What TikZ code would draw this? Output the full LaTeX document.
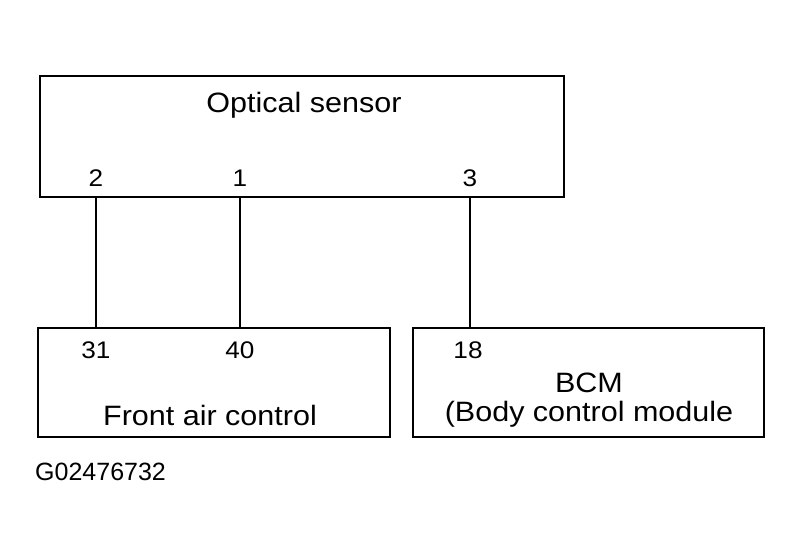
\documentclass[tikz,border=0pt]{standalone}
\usepackage{fontspec}
\setmainfont{Liberation Sans}
\newfontfamily\widesans[FakeStretch=1.09]{Liberation Sans}
\begin{document}
\begin{tikzpicture}[x=1pt,y=-1pt,
  box/.style={draw=black,line width=2pt,rectangle,inner sep=0pt},
  wire/.style={draw=black,line width=2pt},
  namelbl/.style={inner sep=0pt,anchor=base,font=\widesans\fontsize{28}{30}\selectfont},
  pinlbl/.style={inner sep=0pt,anchor=base,font=\widesans\fontsize{24}{26}\selectfont},
  idlbl/.style={inner sep=0pt,anchor=base west,font=\fontsize{25}{27}\selectfont}]
\useasboundingbox[fill=white] (0,0) rectangle (803,557);
% boxes
\node[box,minimum width=524pt,minimum height=121pt] (os) at (302,136.5) {};
\node[box,minimum width=352pt,minimum height=109pt] (fac) at (214,382.5) {};
\node[box,minimum width=351pt,minimum height=109pt] (bcm) at (588.5,382.5) {};
% texts
\node[namelbl] (ostxt) at (304,112) {Optical sensor};
\node[pinlbl] (p2) at (96,186) {2};
\node[pinlbl] (p1) at (240,186) {1};
\node[pinlbl] (p3) at (470,186) {3};
\node[pinlbl] (p31) at (96,358) {31};
\node[pinlbl] (p40) at (240,358) {40};
\node[pinlbl] (p18) at (468,358) {18};
\node[namelbl] (factxt) at (210,425) {Front air control};
\node[namelbl,align=center,font=\widesans\fontsize{28}{29}\selectfont] (bcmtxt) at (589,421) {BCM\\(Body control module};
% id
\node[idlbl] (gid) at (35,480) {G02476732};
% wires
\coordinate (w2) at (95.5,0);
\coordinate (w1) at (240,0);
\coordinate (w3) at (470,0);
\draw[wire] (w2 |- os.south) -- (w2 |- fac.north);
\draw[wire] (w1 |- os.south) -- (w1 |- fac.north);
\draw[wire] (w3 |- os.south) -- (w3 |- bcm.north);
\end{tikzpicture}
\end{document}
